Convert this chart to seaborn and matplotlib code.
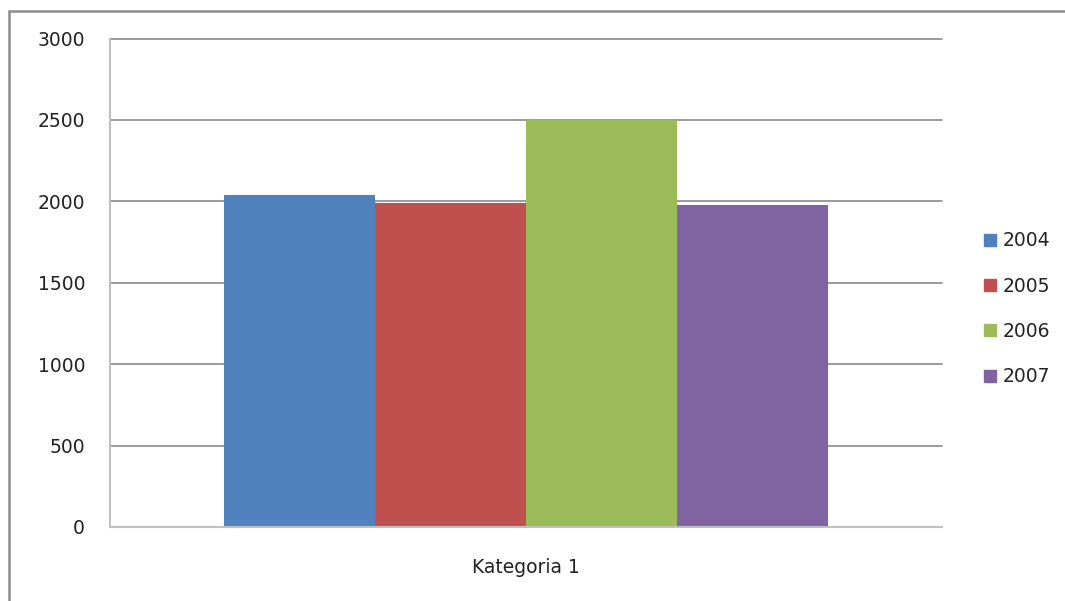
import matplotlib
matplotlib.use('Agg')
import pandas as pd
import matplotlib.pyplot as plt
import seaborn as sns
from matplotlib.patches import Rectangle
from matplotlib.lines import Line2D

categories = ['Kategoria 1']
years = ['2004', '2005', '2006', '2007']
values = [2040, 1988, 2500, 1977]
colors = ['#4F81BD', '#C0504D', '#9BBB59', '#8064A2']
y_ticks = [0, 500, 1000, 1500, 2000, 2500, 3000]

df = pd.DataFrame({'kategoria': categories * len(years), 'rok': years, 'wartosc': values})

sns.set_style('white')
plt.rcParams['font.family'] = ['DejaVu Sans']

W, H = 1065, 601
fig = plt.figure(figsize=(W / 100, H / 100), dpi=100)
ax = fig.add_axes([110 / W, (H - 527) / H, 832 / W, (527 - 38.5) / H])

sns.barplot(data=df, x='kategoria', y='wartosc', hue='rok', palette=colors,
            width=0.727, saturation=1, ax=ax, legend=False, linewidth=0)

ax.set_xlim(-0.5, 0.5)
ax.set_ylim(0, 3000)
ax.set_yticks(y_ticks)
ax.set_xlabel('')
ax.set_ylabel('')
ax.yaxis.grid(True, color='#8a8a8a', linewidth=1.2)
for gl in ax.get_ygridlines():
    gl.set_clip_on(False)
ax.set_axisbelow(True)

for s in ['top', 'right']:
    ax.spines[s].set_visible(False)
for s in ['left', 'bottom']:
    ax.spines[s].set_color('#c0c0c0')
    ax.spines[s].set_linewidth(1.5)

ax.tick_params(axis='y', which='major', length=8, color='#8a8a8a', width=1.2,
               labelsize=13.5, pad=10, labelcolor='#222222')
ax.tick_params(axis='x', which='major', length=0, labelsize=13.5, pad=22, labelcolor='#222222')
ax.set_xticks([-0.5, 0.5], minor=True)
ax.tick_params(axis='x', which='minor', length=8, color='#c0c0c0', width=1.5)

handles = [Line2D([0], [0], marker='s', linestyle='', markersize=8,
                  markerfacecolor=c, markeredgecolor=c) for c in colors]
fig.legend(handles, years, loc='upper left', bbox_to_anchor=(975 / W, 1 - 224 / H),
           frameon=False, fontsize=13.5, handlelength=0.8, handletextpad=0.3,
           labelspacing=1.4, borderaxespad=0, labelcolor='#222222')

fig.patches.append(Rectangle((8.5 / W, -0.1), 1.2, (H - 10.5) / H + 0.1,
                             transform=fig.transFigure, fill=False,
                             edgecolor='#8c8c8c', linewidth=1.8))

fig.savefig('out.png', dpi=100)
